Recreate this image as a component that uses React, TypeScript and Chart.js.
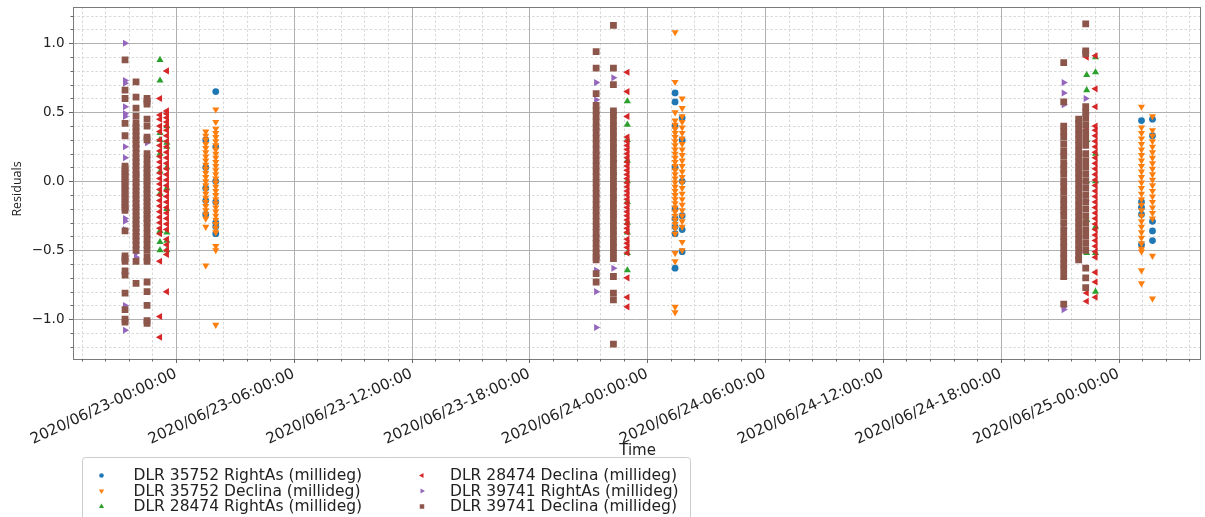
import React, { useEffect, useRef } from 'react';
import { Chart, registerables } from 'chart.js';

Chart.register(...registerables);

// ---------- axes ----------
const BASE_UTC = Date.UTC(2020, 5, 23, 0, 0, 0); // hours are counted from 2020/06/23 00:00
const xMinHours = -5.24;
const xMaxHours = 52.16;
const xTickHours = [0, 6, 12, 18, 24, 30, 36, 42, 48];
const yMin = -1.288;
const yMax = 1.263;
const yTickValues = [-1.0, -0.5, 0.0, 0.5, 1.0];

const seriesLabels = [
  'DLR 35752 RightAs (millideg)',
  'DLR 35752 Declina (millideg)',
  'DLR 28474 RightAs (millideg)',
  'DLR 28474 Declina (millideg)',
  'DLR 39741 RightAs (millideg)',
  'DLR 39741 Declina (millideg)',
];

// ---------- DLR 35752 ----------
const passTimes35752 = [1.52, 2.03, 25.42, 25.78, 49.17, 49.73];
const rightAs35752 = [
  [0.30, 0.10, -0.05, -0.14, -0.24],
  [0.65, 0.25, 0.0, -0.15, -0.30, -0.33, -0.38],
  [0.64, 0.575, 0.40, 0.10, -0.20, -0.27, -0.33, -0.38, -0.63],
  [0.46, 0.30, 0.0, -0.25, -0.35, -0.51],
  [0.44, -0.15, -0.19, -0.24, -0.46],
  [0.45, 0.33, -0.29, -0.36, -0.43],
];
const declina35752 = [
  [0.36, 0.33, 0.30, 0.27, 0.24, 0.21, 0.18, 0.15, 0.12, 0.09, 0.06, 0.03, 0.0, -0.03, -0.06, -0.09, -0.12, -0.15, -0.18, -0.21, -0.24, -0.27, -0.33, -0.61],
  [0.52, 0.43, 0.38, 0.35, 0.32, 0.29, 0.26, 0.23, 0.20, 0.17, 0.14, 0.11, 0.08, 0.05, 0.02, -0.01, -0.04, -0.07, -0.10, -0.13, -0.16, -0.19, -0.22, -0.25, -0.28, -0.31, -0.34, -0.37, -0.47, -0.50, -1.04],
  [1.08, 0.72, 0.50, 0.44, 0.41, 0.38, 0.35, 0.32, 0.29, 0.26, 0.23, 0.20, 0.17, 0.14, 0.11, 0.08, 0.05, 0.02, -0.01, -0.04, -0.07, -0.10, -0.13, -0.16, -0.19, -0.22, -0.25, -0.28, -0.31, -0.34, -0.38, -0.52, -0.58, -0.91, -0.95],
  [0.60, 0.53, 0.47, 0.43, 0.39, 0.35, 0.31, 0.27, 0.23, 0.19, 0.15, 0.11, 0.07, 0.03, -0.01, -0.05, -0.09, -0.13, -0.17, -0.21, -0.25, -0.29, -0.33, -0.44, -0.50],
  [0.54, 0.39, 0.35, 0.31, 0.27, 0.23, 0.19, 0.15, 0.11, 0.07, 0.03, -0.01, -0.05, -0.09, -0.13, -0.17, -0.21, -0.25, -0.29, -0.33, -0.37, -0.41, -0.45, -0.49, -0.51, -0.645, -0.74],
  [0.47, 0.37, 0.33, 0.29, 0.25, 0.21, 0.17, 0.13, 0.09, 0.05, 0.01, -0.03, -0.07, -0.11, -0.15, -0.19, -0.23, -0.27, -0.54, -0.85],
];

// ---------- DLR 28474 ----------
const passTimes28474 = [-0.81, -0.46, 22.99, 46.38, 46.83];
const rightAs28474 = [
  [0.88, 0.73, 0.35, 0.30, 0.20, 0.07, -0.09, -0.36, -0.44, -0.50],
  [0.40, 0.28, 0.25, 0.10, -0.05, -0.20, -0.37, -0.43, -0.50],
  [0.58, 0.41, 0.30, 0.15, 0.0, -0.15, -0.30, -0.37, -0.52, -0.645],
  [0.77, 0.66, 0.30, 0.0, -0.28, -0.52],
  [0.90, 0.79, 0.20, 0.0, -0.33, -0.52, -0.80],
];
const declina28474 = [
  [0.60, 0.48, 0.45, 0.40, 0.36, 0.30, 0.26, 0.22, 0.18, 0.14, 0.10, 0.06, 0.02, -0.02, -0.06, -0.10, -0.14, -0.18, -0.22, -0.26, -0.30, -0.34, -0.38, -0.58, -0.98, -1.13],
  [0.80, 0.51, 0.49, 0.46, 0.43, 0.40, 0.37, 0.33, 0.29, 0.25, 0.21, 0.17, 0.13, 0.09, 0.05, 0.01, -0.03, -0.07, -0.11, -0.15, -0.19, -0.23, -0.27, -0.31, -0.35, -0.42, -0.46, -0.50, -0.53, -0.80],
  [0.79, 0.65, 0.47, 0.32, 0.29, 0.26, 0.23, 0.20, 0.17, 0.14, 0.11, 0.08, 0.05, 0.02, -0.01, -0.04, -0.07, -0.10, -0.13, -0.16, -0.19, -0.22, -0.25, -0.28, -0.31, -0.34, -0.37, -0.42, -0.45, -0.48, -0.52, -0.70, -0.84, -0.91],
  [0.90, 0.39, 0.20, -0.10, -0.81, -0.87],
  [0.91, 0.67, 0.54, 0.40, 0.37, 0.33, 0.29, 0.25, 0.21, 0.17, 0.13, 0.09, 0.05, 0.01, -0.03, -0.07, -0.11, -0.15, -0.19, -0.23, -0.27, -0.31, -0.35, -0.39, -0.43, -0.47, -0.51, -0.55, -0.66, -0.73, -0.84],
];

// ---------- DLR 39741 ----------
const passTimes39741 = [-2.59, -2.03, -1.47, 21.40, 22.28, 45.21, 45.97, 46.33];
const rightAs39741 = [
  [1.0, 0.73, 0.71, 0.54, 0.49, 0.47, 0.25, 0.17, 0.05, -0.05, -0.20, -0.27, -0.29, -0.35, -0.90, -1.08],
  [0.25, 0.22, 0.05, -0.19, -0.26, -0.35, -0.38, -0.47, -0.52, -0.55],
  [0.28, 0.17, -0.13, -0.22, -0.41],
  [0.715, 0.59, 0.50, 0.38, 0.20, -0.10, -0.33, -0.40, -0.55, -0.645, -0.80, -1.06],
  [0.75, 0.15, 0.05, -0.05, -0.12, -0.24, -0.63],
  [0.715, 0.64, 0.555, 0.13, -0.34, -0.91, -0.93],
  [0.37, 0.33, 0.055, -0.23, -0.40, -0.50],
  [0.60, 0.49, -0.14],
];
const declina39741 = [
  [0.88, 0.66, 0.60, 0.42, 0.33, 0.11, 0.09, 0.07, 0.05, 0.03, 0.01, -0.01, -0.03, -0.05, -0.07, -0.09, -0.11, -0.13, -0.15, -0.17, -0.19, -0.21, -0.36, -0.54, -0.56, -0.58, -0.65, -0.68, -0.81, -0.93, -1.0, -1.02],
  [0.72, 0.61, 0.53, 0.47, 0.42, 0.39, 0.36, 0.33, 0.30, 0.27, 0.24, 0.20, 0.17, 0.14, 0.11, 0.08, 0.05, 0.02, -0.01, -0.04, -0.07, -0.10, -0.13, -0.16, -0.19, -0.22, -0.25, -0.28, -0.31, -0.34, -0.37, -0.40, -0.43, -0.46, -0.50, -0.58, -0.74],
  [0.60, 0.58, 0.56, 0.45, 0.40, 0.32, 0.30, 0.20, 0.16, 0.12, 0.09, 0.06, 0.03, 0.0, -0.03, -0.06, -0.09, -0.12, -0.15, -0.18, -0.21, -0.24, -0.27, -0.30, -0.34, -0.38, -0.42, -0.46, -0.50, -0.55, -0.58, -0.73, -0.80, -0.90, -1.01, -1.03],
  [0.94, 0.82, 0.635, 0.55, 0.51, 0.47, 0.43, 0.39, 0.35, 0.31, 0.27, 0.23, 0.19, 0.15, 0.11, 0.07, 0.03, -0.01, -0.05, -0.09, -0.13, -0.17, -0.21, -0.25, -0.29, -0.33, -0.37, -0.41, -0.45, -0.49, -0.52, -0.55, -0.57, -0.67, -0.73],
  [1.13, 0.82, 0.70, 0.51, 0.48, 0.44, 0.40, 0.36, 0.32, 0.28, 0.24, 0.20, 0.16, 0.12, 0.08, 0.04, 0.0, -0.04, -0.08, -0.12, -0.16, -0.20, -0.24, -0.28, -0.32, -0.36, -0.40, -0.44, -0.48, -0.52, -0.56, -0.69, -0.81, -0.86, -1.18],
  [0.86, 0.575, 0.40, 0.36, 0.32, 0.27, 0.22, 0.18, 0.13, 0.09, 0.05, 0.0, -0.04, -0.08, -0.13, -0.17, -0.21, -0.25, -0.30, -0.35, -0.40, -0.44, -0.48, -0.52, -0.56, -0.60, -0.64, -0.69, -0.89],
  [0.45, 0.42, 0.38, 0.34, 0.30, 0.26, 0.22, 0.18, 0.14, 0.10, 0.06, 0.02, -0.02, -0.06, -0.10, -0.14, -0.18, -0.22, -0.26, -0.30, -0.34, -0.38, -0.42, -0.46, -0.50, -0.54, -0.57],
  [1.14, 0.945, 0.925, 0.54, 0.50, 0.46, 0.41, 0.36, 0.31, 0.26, 0.20, 0.15, 0.10, 0.05, 0.0, -0.05, -0.10, -0.15, -0.20, -0.25, -0.30, -0.35, -0.40, -0.45, -0.50, -0.63, -0.70, -0.77],
];

// ---------- styles ----------
const colors = ['#1f77b4', '#ff7f0e', '#2ca02c', '#d62728', '#9467bd', '#8c564b'];
const pointStyles = ['circle', 'triangle', 'triangle', 'triangle', 'triangle', 'rect'];
const pointRotations = [0, 180, 0, 270, 90, 0];
const pointRadii = [3.4, 4.1, 4.1, 4.1, 4.1, 4.8];

function toPoints(times: number[], values: number[][]) {
  const pts: { x: number; y: number }[] = [];
  times.forEach((t, i) => (values[i] || []).forEach((v) => pts.push({ x: t, y: v })));
  return pts;
}

function pad2(n: number) {
  return n < 10 ? '0' + n : '' + n;
}
function formatHours(h: number) {
  const d = new Date(BASE_UTC + h * 3600 * 1000);
  return (
    d.getUTCFullYear() + '/' + pad2(d.getUTCMonth() + 1) + '/' + pad2(d.getUTCDate()) + '-' +
    pad2(d.getUTCHours()) + ':' + pad2(d.getUTCMinutes()) + ':' + pad2(d.getUTCSeconds())
  );
}

function drawMarker(ctx: CanvasRenderingContext2D, i: number, x: number, y: number, r: number) {
  ctx.fillStyle = colors[i];
  ctx.beginPath();
  if (pointStyles[i] === 'circle') {
    ctx.arc(x, y, r, 0, Math.PI * 2);
  } else if (pointStyles[i] === 'rect') {
    ctx.rect(x - r * 0.75, y - r * 0.75, r * 1.5, r * 1.5);
  } else {
    let rad = (pointRotations[i] * Math.PI) / 180;
    for (let k = 0; k < 3; k++) {
      const px = x + Math.sin(rad) * r;
      const py = y - Math.cos(rad) * r;
      if (k === 0) ctx.moveTo(px, py);
      else ctx.lineTo(px, py);
      rad += (2 * Math.PI) / 3;
    }
    ctx.closePath();
  }
  ctx.fill();
}

const mplPlugin = {
  id: 'mplLook',
  beforeDraw(chart: any) {
    const ctx = chart.ctx as CanvasRenderingContext2D;
    ctx.save();
    ctx.fillStyle = '#ffffff';
    ctx.fillRect(0, 0, chart.width, chart.height);
    ctx.restore();
  },
  beforeDatasetsDraw(chart: any) {
    const ctx = chart.ctx as CanvasRenderingContext2D;
    const { left, right, top, bottom } = chart.chartArea;
    const xs = chart.scales.x;
    const ys = chart.scales.y;
    ctx.save();
    // minor grid
    ctx.strokeStyle = '#cfcfcf';
    ctx.lineWidth = 0.8;
    ctx.setLineDash([2.5, 2]);
    for (let k = Math.ceil(xs.min / 1.2); k * 1.2 <= xs.max; k++) {
      if (k % 5 === 0) continue;
      const px = Math.round(xs.getPixelForValue(k * 1.2)) + 0.5;
      ctx.beginPath();
      ctx.moveTo(px, top);
      ctx.lineTo(px, bottom);
      ctx.stroke();
    }
    for (let k = Math.ceil(ys.min / 0.1); k * 0.1 <= ys.max; k++) {
      if (k % 5 === 0) continue;
      const py = Math.round(ys.getPixelForValue(k * 0.1)) + 0.5;
      ctx.beginPath();
      ctx.moveTo(left, py);
      ctx.lineTo(right, py);
      ctx.stroke();
    }
    // major grid
    ctx.setLineDash([]);
    ctx.strokeStyle = '#b0b0b0';
    ctx.lineWidth = 1;
    xTickHours.forEach((h) => {
      const px = Math.round(xs.getPixelForValue(h)) + 0.5;
      ctx.beginPath();
      ctx.moveTo(px, top);
      ctx.lineTo(px, bottom);
      ctx.stroke();
    });
    yTickValues.forEach((v) => {
      const py = Math.round(ys.getPixelForValue(v)) + 0.5;
      ctx.beginPath();
      ctx.moveTo(left, py);
      ctx.lineTo(right, py);
      ctx.stroke();
    });
    ctx.restore();
  },
  afterDatasetsDraw(chart: any) {
    const ctx = chart.ctx as CanvasRenderingContext2D;
    const { left, right, top, bottom } = chart.chartArea;
    const xs = chart.scales.x;
    const ys = chart.scales.y;
    ctx.save();
    // spines
    ctx.strokeStyle = '#7a7a7a';
    ctx.lineWidth = 1;
    ctx.strokeRect(Math.round(left) + 0.5, Math.round(top) + 0.5, Math.round(right - left), Math.round(bottom - top));
    // tick marks
    ctx.strokeStyle = '#666';
    for (let k = Math.ceil(xs.min / 1.2); k * 1.2 <= xs.max; k++) {
      const px = Math.round(xs.getPixelForValue(k * 1.2)) + 0.5;
      const len = k % 5 === 0 ? 4 : 2.5;
      ctx.beginPath();
      ctx.moveTo(px, bottom);
      ctx.lineTo(px, bottom + len);
      ctx.stroke();
    }
    for (let k = Math.ceil(ys.min / 0.1); k * 0.1 <= ys.max; k++) {
      const py = Math.round(ys.getPixelForValue(k * 0.1)) + 0.5;
      const len = k % 5 === 0 ? 4 : 2.5;
      ctx.beginPath();
      ctx.moveTo(left - len, py);
      ctx.lineTo(left, py);
      ctx.stroke();
    }
    // axis titles
    ctx.fillStyle = '#222';
    ctx.textAlign = 'center';
    ctx.textBaseline = 'middle';
    ctx.font = '15px "DejaVu Sans"';
    ctx.fillText('Time', (left + right) / 2 + 1, 451);
    ctx.save();
    ctx.translate(17, 189);
    ctx.rotate(-Math.PI / 2);
    ctx.font = '12.5px "Open Sans"';
    ctx.fillText('Residuals', 0, 0);
    ctx.restore();
    // legend
    ctx.fillStyle = 'rgba(255,255,255,0.85)';
    ctx.strokeStyle = '#cccccc';
    ctx.lineWidth = 1;
    ctx.beginPath();
    (ctx as any).roundRect(82.5, 457.5, 608, 80, 3);
    ctx.fill();
    ctx.stroke();
    const rowsY = [475.5, 491, 506.5];
    const colMarkerX = [101.5, 422];
    const colTextX = [133.5, 450];
    ctx.font = '15.5px "DejaVu Sans"';
    ctx.textAlign = 'left';
    ctx.textBaseline = 'middle';
    seriesLabels.forEach((label, i) => {
      const col = Math.floor(i / 3);
      const row = i % 3;
      drawMarker(ctx, i, colMarkerX[col], rowsY[row], i === 0 ? 2.3 : 3);
      ctx.fillStyle = '#222';
      ctx.fillText(label, colTextX[col], rowsY[row] + 0.5);
    });
    ctx.restore();
  },
};

export default function App() {
  const canvasRef = useRef<HTMLCanvasElement | null>(null);

  useEffect(() => {
    document.body.style.margin = '0';
    const canvas = canvasRef.current;
    if (!canvas) return;
    const seriesData = [
      toPoints(passTimes35752, rightAs35752),
      toPoints(passTimes35752, declina35752),
      toPoints(passTimes28474, rightAs28474),
      toPoints(passTimes28474, declina28474),
      toPoints(passTimes39741, rightAs39741),
      toPoints(passTimes39741, declina39741),
    ];
    const chart = new Chart(canvas, {
      type: 'scatter',
      data: {
        datasets: seriesData.map((pts, i) => ({
          label: seriesLabels[i],
          data: pts,
          backgroundColor: colors[i],
          borderColor: colors[i],
          pointStyle: pointStyles[i] as any,
          pointRotation: pointRotations[i],
          pointRadius: pointRadii[i],
          pointBorderWidth: 0,
          order: 6 - i,
        })),
      },
      options: {
        animation: false,
        responsive: false,
        devicePixelRatio: 1,
        layout: { padding: { top: 7, right: 1, left: 0, bottom: 0 } },
        plugins: { legend: { display: false }, tooltip: { enabled: false }, title: { display: false } },
        scales: {
          x: {
            type: 'linear',
            min: xMinHours,
            max: xMaxHours,
            afterFit: (s: any) => {
              s.height = 158;
              s.paddingLeft = 0;
              s.paddingRight = 0;
            },
            afterBuildTicks: (s: any) => {
              s.ticks = xTickHours.map((v) => ({ value: v }));
            },
            grid: { display: false, drawTicks: false },
            border: { display: false },
            ticks: {
              autoSkip: false,
              minRotation: 25,
              maxRotation: 25,
              padding: 6,
              color: '#222',
              font: { family: 'DejaVu Sans', size: 15 },
              callback: (v: any) => formatHours(Number(v)),
            },
          },
          y: {
            type: 'linear',
            min: yMin,
            max: yMax,
            afterFit: (s: any) => {
              s.width = 73;
              s.paddingTop = 0;
              s.paddingBottom = 0;
            },
            afterBuildTicks: (s: any) => {
              s.ticks = yTickValues.map((v) => ({ value: v }));
            },
            grid: { display: false, drawTicks: false },
            border: { display: false },
            ticks: {
              padding: 8.5,
              color: '#222',
              font: { family: 'DejaVu Sans', size: 13.5 },
              callback: (v: any) => Number(v).toFixed(1).replace('-', '\u2212'),
            },
          },
        },
      },
      plugins: [mplPlugin],
    });
    return () => chart.destroy();
  }, []);

  return (
    <div style={{ width: 1205, height: 517, position: 'relative' }}>
      <canvas ref={canvasRef} width={1205} height={517} style={{ display: 'block' }} />
    </div>
  );
}
